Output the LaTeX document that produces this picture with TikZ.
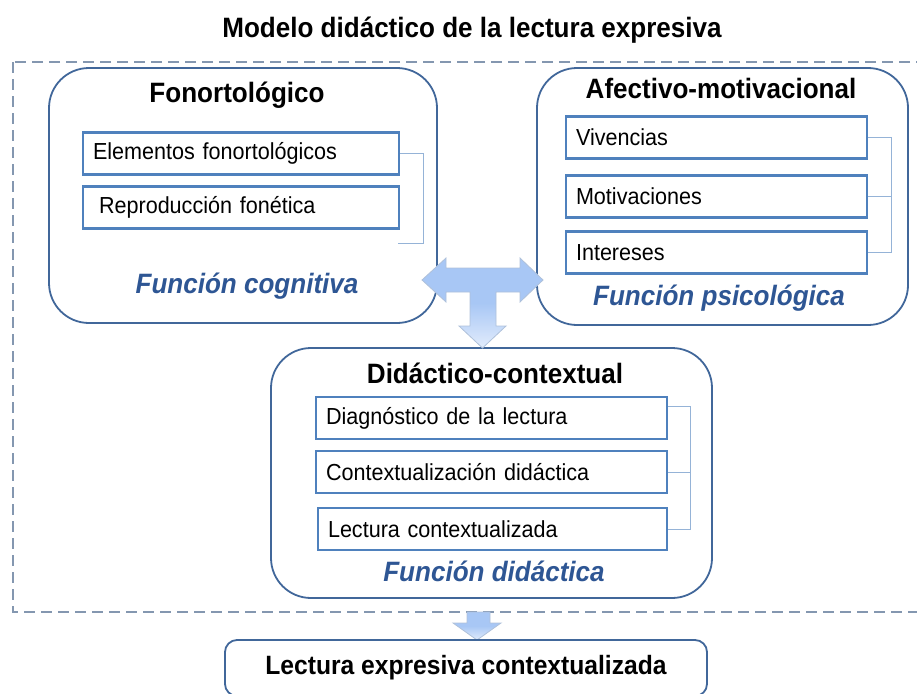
\documentclass[tikz,border=0pt]{standalone}
\usepackage{fontspec}
\setmainfont[FakeStretch=0.93]{Liberation Sans}
\usetikzlibrary{positioning}
\definecolor{panelblue}{RGB}{65,103,154}
\definecolor{entryblue}{RGB}{79,129,189}
\definecolor{brkblue}{RGB}{149,179,215}
\definecolor{frameblue}{RGB}{132,151,176}
\definecolor{funcblue}{RGB}{46,86,148}
\definecolor{arrowtop}{RGB}{168,199,245}
\definecolor{arrowbot}{RGB}{226,236,252}
\definecolor{arrowline}{RGB}{175,193,218}

\begin{document}
\begin{tikzpicture}[x=1pt,y=-1pt,
    panel/.style={draw=panelblue,line width=1.8pt,rounded corners=40pt,
    fill=white,inner sep=0pt},
    entry/.style={draw=entryblue,line width=2.2pt,minimum height=42pt,
    inner xsep=10pt,align=left,font=\fontsize{23.2}{26}\selectfont},
    heading/.style={font=\bfseries\fontsize{28}{32}\selectfont},
    funcion/.style={text=funcblue,font=\bfseries\itshape\fontsize{28}{32}\selectfont},
    brk/.style={draw=brkblue,line width=1pt},
    blockarrow/.style={draw=arrowline,line width=0.8pt,
    top color=arrowtop,bottom color=arrowbot,middle color=arrowtop}
    ]
\useasboundingbox (0,0) rectangle (917,693);
\clip (0,0) rectangle (917,693);

\node[heading] (titulo) at (472,30) {Modelo didáctico de la lectura expresiva};
\draw[frameblue,line width=2pt,dash pattern=on 11pt off 6pt] (13,62) rectangle (940,612);

% Fonortologico
\node[panel,minimum width=388pt,minimum height=255pt] (fono) at (243,195.5) {};
\node[heading] (fonoT) at (237,95) {Fonortológico};
\node[entry,text width=296pt] (elem) at (241,153.5) {Elementos fonortológicos};
\node[entry,text width=296pt] (repro) at (241,207.5) {\hspace{6pt}Reproducción fonética};
\coordinate (fend) at (398,243);
\draw[brk] (elem.east) -- ++(23,0) |- (fend);
\node[funcion] (cogn) at (247,286) {Función cognitiva};

% Afectivo-motivacional
\node[panel,minimum width=371pt,minimum height=257pt] (afec) at (722.5,196.5) {};
\node[heading] (afecT) at (721,88) {Afectivo-motivacional};
\node[entry,text width=281pt] (viv) at (716.5,137.5) {Vivencias};
\node[entry,text width=281pt] (mot) at (716.5,196.5) {Motivaciones};
\node[entry,text width=281pt] (inte) at (716.5,252.5) {Intereses};
\draw[brk] (viv.east) -- ++(23,0) |- (inte.east);
\draw[brk] (mot.east) -- ++(23,0);
\node[funcion] (psic) at (719,298) {Función psicológica};

% Didactico-contextual
\node[panel,minimum width=441pt,minimum height=250pt] (didac) at (491.5,473) {};
\node[heading] (didacT) at (495,373) {Didáctico-contextual};
\node[entry,text width=331pt] (diag) at (491.5,418) {Diagnóstico de la lectura};
\node[entry,text width=331pt] (ctx) at (491.5,472) {Contextualización didáctica};
\node[entry,text width=329pt] (lect) at (492.5,529) {Lectura contextualizada};
\draw[brk] ([yshift=12pt]diag.east) -- ++(22,0) |- (lect.east);
\draw[brk] (ctx.east) -- ++(22,0);
\node[funcion] (dida) at (494,571) {Función didáctica};

% flechas
\draw[blockarrow] (422,280) -- (446,258) -- (446,268) -- (520,268) -- (520,258)
  -- (543,280) -- (520,302) -- (520,292) -- (496,292) -- (496,326) -- (506,326)
  -- (482.5,348) -- (459,326) -- (470,326) -- (470,292) -- (446,292)
  -- (446,302) -- cycle;
\draw[blockarrow] (467,612) -- (490,612) -- (490,623) -- (501,623) -- (477,640)
  -- (453,623) -- (467,623) -- cycle;

\node[panel,rounded corners=12pt,minimum width=482pt,minimum height=56pt,
  font=\bfseries\fontsize{26.5}{30}\selectfont] (final) at (466,668)
  {Lectura expresiva contextualizada};
\end{tikzpicture}
\end{document}
